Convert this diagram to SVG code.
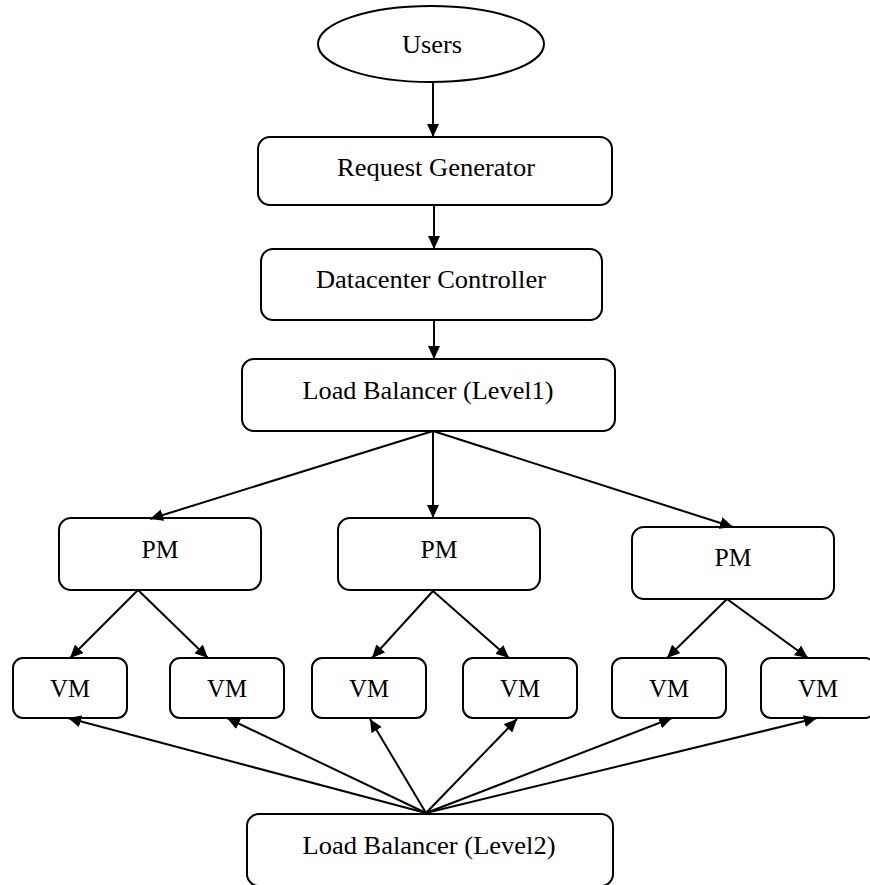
<svg xmlns="http://www.w3.org/2000/svg" width="870" height="885" viewBox="0 0 870 885">
<defs>
<marker id="arr" markerUnits="userSpaceOnUse" markerWidth="14" markerHeight="12" refX="13" refY="6" orient="auto">
<path d="M0,0 L13,6 L0,12 Z" fill="#000"/>
</marker>
<style>
.n{fill:#fff;stroke:#000;stroke-width:2}
.t{font-family:"Liberation Serif","Times New Roman",serif;font-size:24.5px;fill:#000;text-anchor:middle}
.c line{stroke:#000;stroke-width:2;marker-end:url(#arr)}
</style>
</defs>
<rect width="870" height="885" fill="#fff"/>
<g id="users"><ellipse class="n" cx="431" cy="44" rx="113" ry="38"/><text class="t" x="432" y="53" textLength="60" lengthAdjust="spacingAndGlyphs">Users</text></g>
<g id="reqgen"><rect class="n" x="258" y="137" width="354" height="68" rx="12"/><text class="t" x="436" y="176" textLength="198" lengthAdjust="spacingAndGlyphs">Request Generator</text></g>
<g id="dcc"><rect class="n" x="261" y="249" width="341" height="71" rx="12"/><text class="t" x="431" y="288" textLength="230" lengthAdjust="spacingAndGlyphs">Datacenter Controller</text></g>
<g id="lb1"><rect class="n" x="242" y="359" width="373" height="72" rx="12"/><text class="t" x="428" y="399" textLength="251" lengthAdjust="spacingAndGlyphs">Load Balancer (Level1)</text></g>
<g id="pm1"><rect class="n" x="59" y="518" width="202" height="72" rx="12"/><text class="t" x="160" y="558" textLength="37" lengthAdjust="spacingAndGlyphs">PM</text></g>
<g id="pm2"><rect class="n" x="338" y="518" width="202" height="72" rx="12"/><text class="t" x="439" y="558" textLength="37" lengthAdjust="spacingAndGlyphs">PM</text></g>
<g id="pm3"><rect class="n" x="632" y="527" width="202" height="72" rx="12"/><text class="t" x="733" y="566" textLength="37" lengthAdjust="spacingAndGlyphs">PM</text></g>
<g id="vm1"><rect class="n" x="13" y="658" width="114" height="60" rx="10"/><text class="t" x="70" y="697" textLength="40" lengthAdjust="spacingAndGlyphs">VM</text></g>
<g id="vm2"><rect class="n" x="170" y="658" width="114" height="60" rx="10"/><text class="t" x="227" y="697" textLength="40" lengthAdjust="spacingAndGlyphs">VM</text></g>
<g id="vm3"><rect class="n" x="312" y="658" width="114" height="60" rx="10"/><text class="t" x="369" y="697" textLength="40" lengthAdjust="spacingAndGlyphs">VM</text></g>
<g id="vm4"><rect class="n" x="463" y="658" width="114" height="60" rx="10"/><text class="t" x="520" y="697" textLength="40" lengthAdjust="spacingAndGlyphs">VM</text></g>
<g id="vm5"><rect class="n" x="612" y="658" width="114" height="60" rx="10"/><text class="t" x="669" y="697" textLength="40" lengthAdjust="spacingAndGlyphs">VM</text></g>
<g id="vm6"><rect class="n" x="761" y="658" width="114" height="60" rx="10"/><text class="t" x="818" y="697" textLength="40" lengthAdjust="spacingAndGlyphs">VM</text></g>
<g id="lb2"><rect class="n" x="247" y="814" width="366" height="72" rx="12"/><text class="t" x="429" y="854" textLength="253" lengthAdjust="spacingAndGlyphs">Load Balancer (Level2)</text></g>
<g id="connectors" class="c">
<line x1="433" y1="82" x2="433" y2="137"/>
<line x1="434" y1="205" x2="434" y2="249"/>
<line x1="434" y1="320" x2="434" y2="359"/>
<line x1="433" y1="431" x2="150" y2="519"/>
<line x1="433" y1="431" x2="433" y2="518"/>
<line x1="433" y1="431" x2="733" y2="527"/>
<line x1="138" y1="590" x2="70" y2="658"/>
<line x1="138" y1="590" x2="208" y2="658"/>
<line x1="433" y1="591" x2="372" y2="658"/>
<line x1="433" y1="591" x2="509" y2="658"/>
<line x1="727" y1="599" x2="667" y2="658"/>
<line x1="727" y1="599" x2="808" y2="658"/>
<line x1="426" y1="813" x2="68" y2="718"/>
<line x1="426" y1="813" x2="227" y2="718"/>
<line x1="426" y1="813" x2="370" y2="719"/>
<line x1="426" y1="813" x2="517" y2="719"/>
<line x1="426" y1="813" x2="672" y2="718"/>
<line x1="426" y1="813" x2="817" y2="718"/>
</g>
</svg>
